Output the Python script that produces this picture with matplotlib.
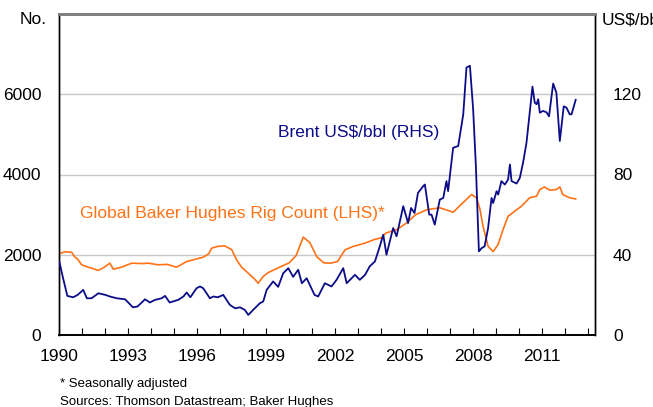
import matplotlib.pyplot as plt
import numpy as np

plt.rcParams['font.family'] = ['Liberation Sans', 'DejaVu Sans']

# Global Baker Hughes rig count (LHS)
rig_t = [1990.0, 1990.25, 1990.54, 1990.68, 1990.8, 1990.97, 1991.26, 1991.7, 1991.9,
         1992.2, 1992.35, 1992.7, 1993.15, 1993.6, 1993.87, 1994.3, 1994.7, 1995.1,
         1995.54, 1995.83, 1996.26, 1996.5, 1996.63, 1996.9, 1997.2, 1997.5, 1997.71,
         1997.93, 1998.22, 1998.5, 1998.65, 1998.87, 1999.1, 1999.4, 1999.7, 2000.0,
         2000.3, 2000.61, 2000.9, 2001.2, 2001.5, 2001.8, 2002.1, 2002.43, 2002.8,
         2003.3, 2003.7, 2004.0, 2004.2, 2004.67, 2005.1, 2005.5, 2006.0, 2006.55,
         2007.13, 2007.4, 2007.93, 2008.15, 2008.3, 2008.43, 2008.65, 2008.87, 2009.08,
         2009.3, 2009.52, 2009.8, 2010.1, 2010.46, 2010.76, 2010.9, 2011.1, 2011.33,
         2011.62, 2011.77, 2011.9, 2012.2, 2012.46]
rig_v = [2025, 2075, 2060, 1940, 1890, 1750, 1690, 1610, 1670,
         1790, 1640, 1690, 1790, 1780, 1790, 1750, 1760, 1690,
         1830, 1875, 1940, 2025, 2165, 2210, 2220, 2125, 1875,
         1690, 1540, 1390, 1290, 1460, 1560, 1640, 1720, 1800,
         1980, 2440, 2300, 1950, 1800, 1790, 1830, 2125, 2210,
         2290, 2380, 2420, 2540, 2625, 2790, 3000, 3125, 3170,
         3060, 3210, 3500, 3420, 3125, 2710, 2210, 2080, 2250,
         2625, 2960, 3080, 3210, 3420, 3460, 3625, 3690, 3610,
         3625, 3690, 3500, 3420, 3390]

# Brent US$/bbl (RHS)
brent_t = [1990.0, 1990.15, 1990.35, 1990.6, 1990.8, 1991.04, 1991.2, 1991.4, 1991.7,
           1992.0, 1992.2, 1992.5, 1992.86, 1993.0, 1993.2, 1993.4, 1993.73, 1993.94,
           1994.16, 1994.45, 1994.6, 1994.8, 1995.17, 1995.4, 1995.54, 1995.7, 1995.97,
           1996.12, 1996.26, 1996.55, 1996.7, 1996.9, 1997.13, 1997.42, 1997.65, 1997.86,
           1998.07, 1998.22, 1998.43, 1998.58, 1998.72, 1998.87, 1999.02, 1999.3, 1999.52,
           1999.74, 1999.96, 2000.17, 2000.39, 2000.55, 2000.76, 2001.1, 2001.26, 2001.55,
           2001.84, 2002.06, 2002.35, 2002.5, 2002.86, 2003.07, 2003.3, 2003.5, 2003.73,
           2003.94, 2004.09, 2004.23, 2004.52, 2004.67, 2004.96, 2005.17, 2005.3, 2005.45,
           2005.6, 2005.83, 2005.9, 2006.09, 2006.19, 2006.33, 2006.55, 2006.7, 2006.84,
           2006.91, 2007.13, 2007.35, 2007.57, 2007.71, 2007.86, 2008.0, 2008.12, 2008.25,
           2008.37, 2008.5, 2008.65, 2008.8, 2008.87, 2009.02, 2009.09, 2009.23, 2009.38,
           2009.52, 2009.6, 2009.67, 2009.89, 2010.03, 2010.17, 2010.32, 2010.46, 2010.58,
           2010.68, 2010.76, 2010.83, 2010.9, 2011.04, 2011.19, 2011.3, 2011.48, 2011.62,
           2011.77, 2011.94, 2012.06, 2012.2, 2012.28, 2012.46]
brent_v = [36.7, 29, 19.5, 18.8, 20, 22.5, 18.3, 18.3, 20.8,
           20, 19.2, 18.3, 17.8, 16.2, 13.8, 14.2, 17.8, 16.2,
           17.5, 18.3, 19.5, 16.2, 17.5, 19.2, 21.2, 18.8, 23.3,
           24.2, 23.3, 18.3, 19.2, 18.8, 20, 15, 13.3, 13.8,
           12.5, 10, 12.5, 14.2, 15.8, 16.7, 22.5, 26.7, 24,
           30.8, 33.3, 29, 32.5, 25.8, 28.3, 20, 19.2, 25.8,
           24.2, 27.5, 33.3, 25.8, 30, 27.5, 30, 34.2, 36.7,
           44.2, 50, 40, 53.3, 49.2, 64.2, 55.8, 63.3, 60.8,
           70.8, 74.2, 75, 60, 60, 55, 67.5, 68.3, 76.7,
           71.7, 93.3, 94.2, 110, 133.3, 134.2, 112.5, 84, 41.7,
           43.3, 44.2, 53.3, 68.3, 65.8, 71.7, 70, 76.7, 75,
           77.5, 85, 76.7, 75.5, 78.3, 85.8, 95.8, 110.8, 123.8,
           115.8, 115, 117.5, 110.8, 111.7, 111, 109, 125.3, 120.8,
           96.7, 114, 113.3, 110, 110, 117.2]

years = np.arange(1990, 2014)
labelled = [1990, 1993, 1996, 1999, 2002, 2005, 2008, 2011]

navy = '#0c0c88'
orange = '#ff7216'

fig = plt.figure(figsize=(6.53, 4.07), dpi=100)
ax = fig.add_axes([59.3 / 653, 1 - 335 / 407, (595 - 59.3) / 653, (335 - 14) / 407])
ax2 = ax.twinx()

ax.plot(rig_t, rig_v, color=orange, lw=1.2, zorder=3)
ax2.plot(brent_t, brent_v, color=navy, lw=1.3, zorder=3)

ax.set_xlim(1990, 2013.3)
ax.set_ylim(0, 8000)
ax2.set_ylim(0, 160)
ax.set_yticks([0, 2000, 4000, 6000])
ax2.set_yticks([0, 40, 80, 120])
ax.grid(axis='y', color='#c8c8c8', lw=1)
ax.set_axisbelow(True)

ax.set_xticks(years)
ax.set_xticklabels([str(y) if y in labelled else '' for y in years])
ax.tick_params(axis='x', direction='in', length=5, width=0.8, pad=10, labelsize=12.5)
ax.tick_params(axis='y', length=0, pad=13, labelsize=12.5)
ax2.tick_params(axis='y', length=0, pad=13, labelsize=12.5)

for a in (ax, ax2):
    a.spines['top'].set_color('#808080')
    a.spines['top'].set_linewidth(2)
    a.spines['left'].set_linewidth(1)
    a.spines['right'].set_linewidth(1)
    a.spines['bottom'].set_linewidth(1.2)

fig.text(20 / 653, 1 - 19 / 407, 'No.', fontsize=12.5, va='center', ha='left')
fig.text(602 / 653, 1 - 20 / 407, 'US$/bbl', fontsize=12.5, va='center', ha='left')

ax2.text(278 / 653 * 653, 0, '')
fig.text(278 / 653, 1 - 132 / 407, 'Brent US$/bbl (RHS)', color=navy, fontsize=12.5,
         va='center', ha='left')
fig.text(80 / 653, 1 - 213 / 407, 'Global Baker Hughes Rig Count (LHS)*', color=orange,
         fontsize=12.5, va='center', ha='left')

fig.text(60 / 653, 1 - 384 / 407, '* Seasonally adjusted', fontsize=9.5, va='center', ha='left')
fig.text(60 / 653, 1 - 402 / 407, 'Sources: Thomson Datastream; Baker Hughes', fontsize=9.5,
         va='center', ha='left')

fig.savefig('out.png', dpi=100)
